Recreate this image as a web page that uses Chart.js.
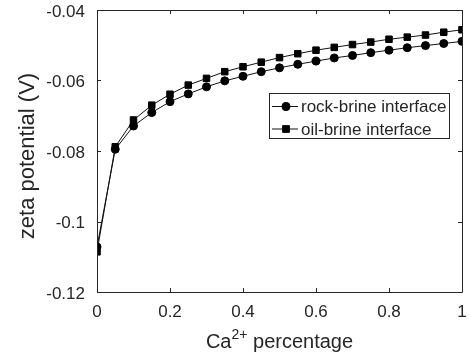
<!DOCTYPE html>
<html>
<head>
<meta charset="utf-8">
<script src="https://cdn.jsdelivr.net/npm/chart.js@4.4.1/dist/chart.umd.min.js"></script>
<style>
  html, body { margin: 0; padding: 0; background: #fff; }
  #wrap { width: 469px; height: 357px; position: relative; }
</style>
</head>
<body>
<div id="wrap"><canvas id="zeta"></canvas></div>
<script>
// Ca2+ fraction in the brine
const caFraction = [0, 0.05, 0.1, 0.15, 0.2, 0.25, 0.3, 0.35, 0.4, 0.45, 0.5,
    0.55, 0.6, 0.65, 0.7, 0.75, 0.8, 0.85, 0.9, 0.95, 1];

// zeta potential (V)
const rockBrine = [-0.1072, -0.0795, -0.0729, -0.0691, -0.0660, -0.0638, -0.0618,
    -0.0601, -0.0588, -0.0575, -0.0564, -0.0554, -0.0545, -0.0536, -0.0529,
    -0.0521, -0.0514, -0.0507, -0.0501, -0.0495, -0.0489];
const oilBrine = [-0.1086, -0.0788, -0.0712, -0.0670, -0.0639, -0.0613, -0.0594,
    -0.0575, -0.0561, -0.0548, -0.0535, -0.0524, -0.0514, -0.0506, -0.0498,
    -0.0491, -0.0483, -0.0477, -0.0471, -0.0463, -0.0456];

const xTickValues = [0, 0.2, 0.4, 0.6, 0.8, 1];
const yTickValues = [-0.12, -0.1, -0.08, -0.06, -0.04];

const FONT = "'Liberation Sans', Arial, Helvetica, sans-serif";
const AXIS_COLOR = "#262626";

const toPoints = (ys) => caFraction.map((x, i) => ({ x, y: ys[i] }));
const fmt = (v) => String(Number(v.toFixed(4)));

// fixed axes box: scales get no extra room for overhanging labels
const noOverhang = (s) => {
    s.paddingLeft = 0; s.paddingRight = 0; s.paddingTop = 0; s.paddingBottom = 0;
};

// box around the axes, inward ticks, legend and axis titles (matlab look)
const matlabAxes = {
    id: "matlabAxes",
    afterDatasetsDraw(chart) {
        const { ctx, chartArea: a, scales } = chart;
        const tl = 4;
        ctx.save();
        ctx.strokeStyle = AXIS_COLOR;
        ctx.lineWidth = 1;
        ctx.beginPath();
        ctx.rect(Math.round(a.left) + 0.5, Math.round(a.top) + 0.5,
            Math.round(a.right - a.left), Math.round(a.bottom - a.top));
        for (const v of xTickValues) {
            const px = Math.round(scales.x.getPixelForValue(v)) + 0.5;
            ctx.moveTo(px, a.bottom); ctx.lineTo(px, a.bottom - tl);
            ctx.moveTo(px, a.top); ctx.lineTo(px, a.top + tl);
        }
        for (const v of yTickValues) {
            const py = Math.round(scales.y.getPixelForValue(v)) + 0.5;
            ctx.moveTo(a.left, py); ctx.lineTo(a.left + tl, py);
            ctx.moveTo(a.right, py); ctx.lineTo(a.right - tl, py);
        }
        ctx.stroke();

        // legend
        const lx = 269.5, ly = 93.5, lw = 180, lh = 45;
        ctx.fillStyle = "#fff";
        ctx.fillRect(lx, ly, lw, lh);
        ctx.strokeRect(lx, ly, lw, lh);
        ctx.font = "17px " + FONT;
        ctx.textBaseline = "middle";
        ctx.textAlign = "left";
        chart.data.datasets.forEach((ds, i) => {
            const y = 106.5 + i * 22.5;
            ctx.strokeStyle = ds.borderColor;
            ctx.beginPath();
            ctx.moveTo(272, y); ctx.lineTo(298, y);
            ctx.stroke();
            ctx.fillStyle = ds.pointBackgroundColor;
            Chart.helpers.drawPoint(ctx, {
                pointStyle: ds.pointStyle, radius: ds.pointRadius, rotation: 0, borderWidth: 1
            }, 286, y);
            ctx.fill();
            ctx.stroke();
            ctx.fillStyle = AXIS_COLOR;
            ctx.fillText(ds.label, 301, y + 1);
        });

        // axis titles
        ctx.fillStyle = AXIS_COLOR;
        ctx.textBaseline = "alphabetic";
        const cx = (a.left + a.right) / 2;
        const main = "Ca", sup = "2+", rest = " percentage";
        ctx.font = "20px " + FONT;
        const wMain = ctx.measureText(main).width;
        const wRest = ctx.measureText(rest).width;
        ctx.font = "14px " + FONT;
        const wSup = ctx.measureText(sup).width;
        let x0 = cx - (wMain + wSup + wRest) / 2;
        const base = 348;
        ctx.font = "20px " + FONT;
        ctx.fillText(main, x0, base);
        ctx.font = "14px " + FONT;
        ctx.fillText(sup, x0 + wMain, base - 9);
        ctx.font = "20px " + FONT;
        ctx.fillText(rest, x0 + wMain + wSup, base);

        ctx.save();
        ctx.translate(34, (a.top + a.bottom) / 2 + 5);
        ctx.rotate(-Math.PI / 2);
        ctx.textAlign = "center";
        ctx.font = "22px " + FONT;
        ctx.fillText("zeta potential (V)", 0, 0);
        ctx.restore();
        ctx.restore();
    }
};

new Chart(document.getElementById("zeta"), {
    type: "line",
    data: {
        datasets: [
            {
                label: "rock-brine interface",
                data: toPoints(rockBrine),
                borderColor: "#111",
                borderWidth: 1,
                pointStyle: "circle",
                pointRadius: 4,
                pointBackgroundColor: "#000",
                pointBorderColor: "#000",
                pointBorderWidth: 1,
            },
            {
                label: "oil-brine interface",
                data: toPoints(oilBrine),
                borderColor: "#111",
                borderWidth: 1,
                pointStyle: "rect",
                pointRadius: 4.6,
                pointBackgroundColor: "#000",
                pointBorderColor: "#000",
                pointBorderWidth: 1,
            },
        ],
    },
    options: {
        responsive: true,
        maintainAspectRatio: false,
        animation: false,
        events: [],
        layout: { padding: { top: 10, right: 7, left: 0, bottom: 0 } },
        plugins: { legend: { display: false }, tooltip: { enabled: false } },
        elements: { line: { tension: 0 } },
        scales: {
            x: {
                type: "linear",
                min: 0,
                max: 1,
                afterBuildTicks: (s) => { s.ticks = xTickValues.map((value) => ({ value })); },
                afterFit: (s) => { s.height = 65; noOverhang(s); },
                grid: { display: false, drawTicks: false },
                border: { display: false },
                ticks: {
                    padding: 10,
                    color: AXIS_COLOR,
                    font: { family: FONT, size: 17 },
                    maxRotation: 0,
                    callback: (v) => fmt(v),
                },
            },
            y: {
                type: "linear",
                min: -0.12,
                max: -0.04,
                afterBuildTicks: (s) => { s.ticks = yTickValues.map((value) => ({ value })); },
                afterFit: (s) => { s.width = 97; noOverhang(s); },
                grid: { display: false, drawTicks: false },
                border: { display: false },
                ticks: {
                    padding: 12,
                    labelOffset: 2,
                    color: AXIS_COLOR,
                    font: { family: FONT, size: 17 },
                    callback: (v) => fmt(v),
                },
            },
        },
    },
    plugins: [matlabAxes],
});
</script>
</body>
</html>
